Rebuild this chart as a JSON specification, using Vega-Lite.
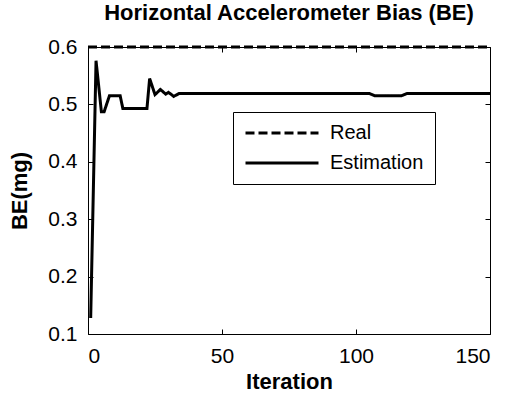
{
  "$schema": "https://vega.github.io/schema/vega-lite/v6.json",
  "width": 402,
  "height": 287,
  "autosize": {"type": "none"},
  "padding": {"left": 88, "top": 47, "right": 23, "bottom": 62},
  "background": "white",
  "config": {
    "font": "Liberation Sans",
    "view": {"stroke": "black", "strokeWidth": 1},
    "axis": {"domain": false, "grid": false, "tickColor": "black", "tickSize": -5, "labelColor": "black", "labelFontSize": 21, "titleFontSize": 22, "titleFontWeight": "bold", "titleColor": "black", "labelFont": "Liberation Sans", "titleFont": "Liberation Sans"},
    "title": {"font": "Liberation Sans", "fontSize": 22, "fontWeight": "bold", "color": "black"}
  },
  "title": {"text": "Horizontal Accelerometer Bias (BE)", "offset": 11},
  "data": {
    "values": [
      {"iter": 0, "value": 0.6, "series": "Real"},
      {"iter": 150, "value": 0.6, "series": "Real"},
      {"iter": 1, "value": 0.128, "series": "Estimation"},
      {"iter": 3, "value": 0.576, "series": "Estimation"},
      {"iter": 5, "value": 0.487, "series": "Estimation"},
      {"iter": 6, "value": 0.487, "series": "Estimation"},
      {"iter": 8, "value": 0.515, "series": "Estimation"},
      {"iter": 12, "value": 0.515, "series": "Estimation"},
      {"iter": 13, "value": 0.493, "series": "Estimation"},
      {"iter": 22, "value": 0.493, "series": "Estimation"},
      {"iter": 23, "value": 0.545, "series": "Estimation"},
      {"iter": 25, "value": 0.517, "series": "Estimation"},
      {"iter": 27, "value": 0.526, "series": "Estimation"},
      {"iter": 29, "value": 0.518, "series": "Estimation"},
      {"iter": 30, "value": 0.521, "series": "Estimation"},
      {"iter": 32, "value": 0.514, "series": "Estimation"},
      {"iter": 34, "value": 0.519, "series": "Estimation"},
      {"iter": 105, "value": 0.519, "series": "Estimation"},
      {"iter": 107, "value": 0.515, "series": "Estimation"},
      {"iter": 117, "value": 0.515, "series": "Estimation"},
      {"iter": 119, "value": 0.519, "series": "Estimation"},
      {"iter": 150, "value": 0.519, "series": "Estimation"}
    ]
  },
  "layer": [
    {
      "mark": {"type": "line", "strokeWidth": 3},
      "encoding": {
        "x": {"field": "iter", "type": "quantitative", "scale": {"domain": [0, 150], "nice": false},
              "axis": {"orient": "bottom", "values": [0, 50, 100, 150], "title": "Iteration", "labelPadding": 16, "titlePadding": 5}},
        "y": {"field": "value", "type": "quantitative", "scale": {"domain": [0.1, 0.6], "nice": false, "zero": false},
              "axis": {"orient": "left", "values": [0.1, 0.2, 0.3, 0.4, 0.5, 0.6], "format": ".1f", "title": "BE(mg)", "labelPadding": 16, "titlePadding": 16}},
        "color": {"field": "series", "type": "nominal", "scale": {"domain": ["Real", "Estimation"], "range": ["black", "black"]},
                  "legend": {"title": null, "orient": "none", "legendX": 145, "legendY": 65, "symbolType": "stroke", "symbolSize": 5329, "symbolStrokeWidth": 3, "clipHeight": 20, "labelFontSize": 20, "labelColor": "black", "labelOffset": 10, "strokeColor": "black", "fillColor": "white", "padding": 11, "rowPadding": 10}},
        "strokeDash": {"field": "series", "type": "nominal", "scale": {"domain": ["Real", "Estimation"], "range": [[9, 4], [1, 0]]},
                  "legend": {"title": null, "orient": "none", "legendX": 145, "legendY": 65, "symbolType": "stroke", "symbolSize": 5329, "symbolStrokeWidth": 3, "clipHeight": 20, "labelFontSize": 20, "labelColor": "black", "labelOffset": 10, "strokeColor": "black", "fillColor": "white", "padding": 11, "rowPadding": 10}}
      }
    },
    {
      "mark": {"type": "point", "opacity": 0},
      "encoding": {
        "x": {"field": "iter", "type": "quantitative", "axis": {"orient": "top", "values": [0, 50, 100, 150], "labels": false, "title": null}},
        "y": {"field": "value", "type": "quantitative", "axis": {"orient": "right", "values": [0.1, 0.2, 0.3, 0.4, 0.5, 0.6], "labels": false, "title": null}}
      }
    }
  ]
}
